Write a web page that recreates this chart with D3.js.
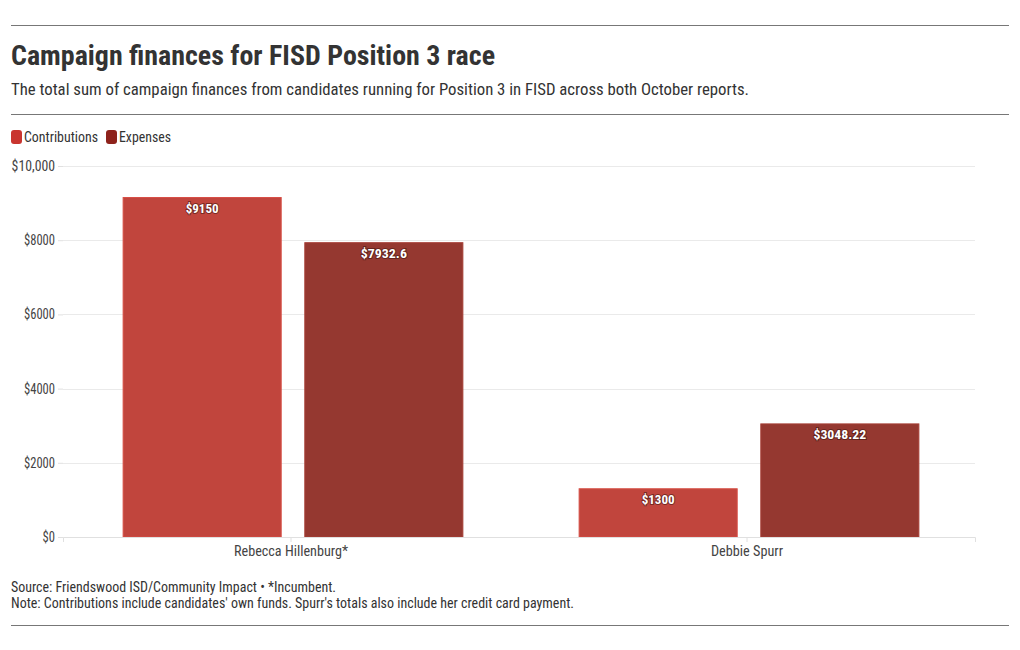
<!DOCTYPE html>
<html>
<head>
<meta charset="utf-8">
<script src="https://cdn.jsdelivr.net/npm/d3@7"></script>
<style>
  body { margin: 0; background: #fff; }
  text { font-family: "Roboto Condensed", Roboto, sans-serif; }
</style>
</head>
<body>
<div id="graf"></div>
<script>
// Datos
const candidatos = ["Rebecca Hillenburg*", "Debbie Spurr"]
const series = ["Contributions", "Expenses"]
const contribuciones = [9150, 1300]
const gastos = [7932.6, 3048.22]
const ticksY = [0, 2000, 4000, 6000, 8000, 10000]
const etiquetasY = ["$0", "$2000", "$4000", "$6000", "$8000", "$10,000"]

const data = candidatos.map((c, i) => ({
  candidato: c,
  Contributions: contribuciones[i],
  Expenses: gastos[i],
}))

// Dimensiones
const anchoTotal = 1020
const altoTotal = 650
const margins = { top: 166, right: 45, bottom: 113, left: 63 }
const ancho = anchoTotal - margins.left - margins.right
const alto = altoTotal - margins.top - margins.bottom

const svg = d3.select("#graf").append("svg")
  .attr("width", anchoTotal)
  .attr("height", altoTotal)

// Encabezado
svg.append("line").attr("x1", 11).attr("x2", 1009).attr("y1", 25.5).attr("y2", 25.5)
  .attr("stroke", "#777").attr("stroke-width", 1)
svg.append("text").attr("x", 11).attr("y", 65)
  .attr("font-size", 28).attr("font-weight", "bold").attr("fill", "#333")
  .attr("textLength", 484).attr("lengthAdjust", "spacingAndGlyphs")
  .text("Campaign finances for FISD Position 3 race")
svg.append("text").attr("x", 11).attr("y", 95)
  .attr("font-size", 16).attr("fill", "#333")
  .attr("textLength", 738).attr("lengthAdjust", "spacingAndGlyphs")
  .text("The total sum of campaign finances from candidates running for Position 3 in FISD across both October reports.")
svg.append("line").attr("x1", 11).attr("x2", 1009).attr("y1", 114.5).attr("y2", 114.5)
  .attr("stroke", "#777").attr("stroke-width", 1)

// Leyenda
const colorLeyenda = d3.scaleOrdinal().domain(series).range(["#c9352f", "#8e221b"])
const color = d3.scaleOrdinal().domain(series).range(["#c1453d", "#953830"])
const leyenda = [
  { s: "Contributions", x: 11, w: 74 },
  { s: "Expenses", x: 106, w: 52 },
]
leyenda.forEach((l) => {
  svg.append("rect").attr("x", l.x).attr("y", 130).attr("width", 11).attr("height", 14)
    .attr("rx", 3).attr("fill", colorLeyenda(l.s))
  svg.append("text").attr("x", l.x + 13).attr("y", 142)
    .attr("font-size", 14).attr("fill", "#333")
    .attr("textLength", l.w).attr("lengthAdjust", "spacingAndGlyphs")
    .text(l.s)
})

const g = svg.append("g").attr("transform", `translate(${margins.left}, ${margins.top})`)

// Escaladores
const x0 = d3.scaleBand().domain(candidatos).range([0, ancho]).padding(0)
const x1 = d3.scaleBand().domain(series).range([2, x0.bandwidth() + 2])
  .paddingInner(0.13).paddingOuter(0.32)
const y = d3.scaleLinear().domain([0, 10000]).range([alto, 0])

// Rejilla
g.append("g").selectAll("line").data(ticksY).join("line")
  .attr("x1", 0).attr("x2", ancho)
  .attr("y1", (d) => Math.round(y(d)) + 0.5).attr("y2", (d) => Math.round(y(d)) + 0.5)
  .attr("stroke", "#eaeaea")

// Eje Y
const yAxis = d3.axisLeft(y).tickValues(ticksY)
  .tickFormat((d, i) => etiquetasY[i]).tickSize(5).tickPadding(3)
const yAxisGroup = g.append("g").call(yAxis)
yAxisGroup.select(".domain").remove()
yAxisGroup.selectAll(".tick line").attr("stroke", "#e0e0e0")
yAxisGroup.selectAll("text").attr("font-size", 14).attr("fill", "#444")
  .attr("font-family", "'Roboto Condensed', Roboto, sans-serif")
  .each(function () {
    const t = d3.select(this)
    const len = t.text().length
    t.attr("textLength", len * 6.2).attr("lengthAdjust", "spacingAndGlyphs")
  })

// Barras
const grupos = g.selectAll(".grupo").data(data).join("g")
  .attr("class", "grupo")
  .attr("transform", (d) => `translate(${x0(d.candidato)}, 0)`)

const barras = grupos.selectAll("g").data((d) => series.map((s) => ({ s, v: d[s] }))).join("g")
barras.append("rect")
  .attr("x", (d) => x1(d.s))
  .attr("y", (d) => y(d.v))
  .attr("width", x1.bandwidth())
  .attr("height", (d) => alto - y(d.v))
  .attr("fill", (d) => color(d.s))
  .attr("stroke", (d) => d3.color(color(d.s)).brighter(0.3))
  .attr("stroke-width", 1)

barras.append("text")
  .attr("x", (d) => x1(d.s) + x1.bandwidth() / 2)
  .attr("y", (d) => y(d.v) + 15)
  .attr("text-anchor", "middle")
  .attr("font-size", 13).attr("font-weight", "bold").attr("fill", "#fff")
  .style("paint-order", "stroke")
  .attr("stroke", "rgba(60,20,15,0.55)").attr("stroke-width", 2)
  .attr("textLength", (d) => ("$" + d.v).length * 6.6).attr("lengthAdjust", "spacingAndGlyphs")
  .text((d) => "$" + d.v)

// Eje X
const xAxis = d3.axisBottom(x0).tickSize(5).tickPadding(4)
const xAxisGroup = g.append("g").attr("transform", `translate(0, ${alto})`).call(xAxis)
xAxisGroup.select(".domain").attr("stroke", "#e0e0e0")
xAxisGroup.selectAll(".tick line").attr("stroke", "#e0e0e0")
xAxisGroup.selectAll("text").attr("font-size", 14).attr("fill", "#444")
  .attr("font-family", "'Roboto Condensed', Roboto, sans-serif")
  .each(function () {
    const t = d3.select(this)
    t.attr("textLength", t.text().length * 6.0).attr("lengthAdjust", "spacingAndGlyphs")
  })

// Pie
svg.append("text").attr("x", 11).attr("y", 592)
  .attr("font-size", 14).attr("fill", "#333")
  .attr("textLength", 325).attr("lengthAdjust", "spacingAndGlyphs")
  .text("Source: Friendswood ISD/Community Impact • *Incumbent.")
svg.append("text").attr("x", 11).attr("y", 608)
  .attr("font-size", 14).attr("fill", "#333")
  .attr("textLength", 563).attr("lengthAdjust", "spacingAndGlyphs")
  .text("Note: Contributions include candidates' own funds. Spurr's totals also include her credit card payment.")
svg.append("line").attr("x1", 11).attr("x2", 1009).attr("y1", 625.5).attr("y2", 625.5)
  .attr("stroke", "#777").attr("stroke-width", 1)
</script>
</body>
</html>
